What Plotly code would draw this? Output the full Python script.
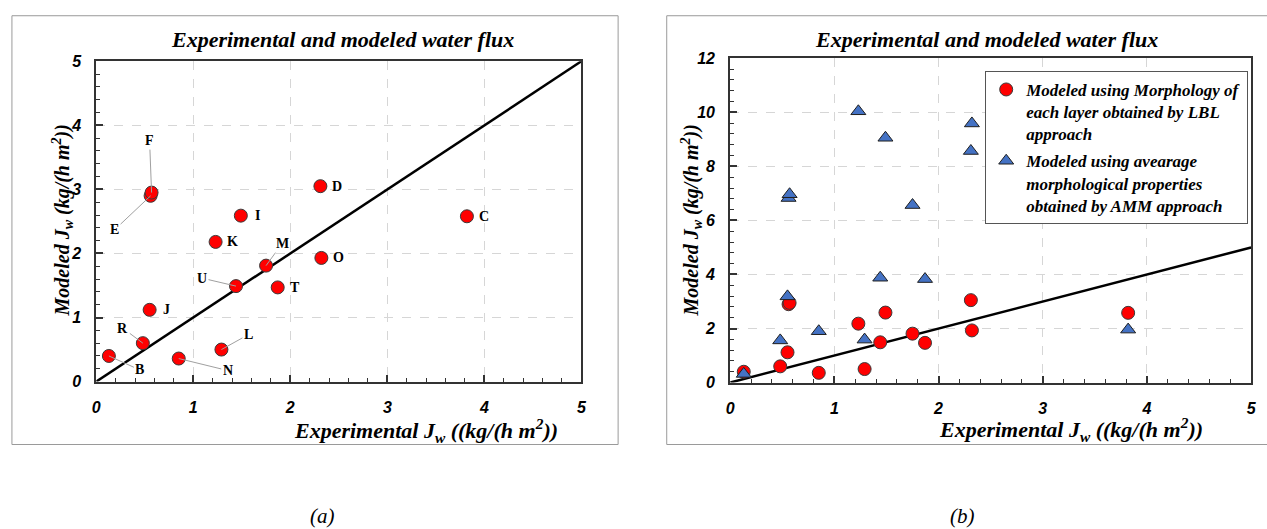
import plotly.graph_objects as go

# ---------------- data ----------------
labels = ["B", "R", "J", "E", "F", "N", "L", "U", "K", "I", "M", "T", "D", "O", "C"]
exp_jw = [0.13, 0.48, 0.55, 0.56, 0.57, 0.85, 1.29, 1.44, 1.23, 1.49, 1.75, 1.87, 2.31, 2.32, 3.82]
lbl_jw = [0.40, 0.60, 1.12, 2.90, 2.95, 0.36, 0.50, 1.49, 2.18, 2.59, 1.81, 1.47, 3.05, 1.93, 2.58]
amm_jw = [0.32, 1.56, 3.19, 6.83, 6.97, 1.90, 1.59, 3.88, 10.04, 9.06, 6.57, 3.83, 8.57, 9.59, 1.96]
line_x = [0, 5]
line_y = [0, 5]

title_text = "Experimental and modeled water flux"
xtitle = "Experimental J<sub>w</sub> ((kg/(h m<sup>2</sup>))"
ytitle = "Modeled J<sub>w</sub> (kg/(h m<sup>2</sup>))"
legend_lbl = "Modeled using Morphology of<br>each layer obtained by LBL<br>approach"
legend_amm = "Modeled using avearage<br>morphological properties<br>obtained by AMM approach"

# label leader offsets (pixels); labels not listed sit to the right of their point
leader = {"F": (-2, -52), "E": (-36, 34), "R": (-20, -15), "B": (31, 14),
          "N": (49, 12), "L": (27, -15), "U": (-34, -8), "M": (16, -22)}

W, H = 1267, 529
def fx(p): return p / W
def fy(p): return 1 - p / H

SERIF = "Liberation Serif, Times New Roman, serif"
title_font = dict(family=SERIF, size=22, color="black", weight="bold", style="italic")
xtitle_font = dict(family=SERIF, size=22, color="black", weight="bold", style="italic")
ytitle_font = dict(family=SERIF, size=20, color="black", weight="bold", style="italic")
tick_font = dict(family="Liberation Sans, Arial, sans-serif", size=16, color="black",
                 weight="bold", style="italic")

fig = go.Figure()

# left panel
fig.add_trace(go.Scatter(x=line_x, y=line_y, mode="lines", line=dict(color="black", width=2.5),
                         xaxis="x", yaxis="y", showlegend=False, hoverinfo="skip"))
fig.add_trace(go.Scatter(x=exp_jw, y=lbl_jw, mode="markers", text=labels,
                         marker=dict(symbol="circle", size=13, color="#ff0000",
                                     line=dict(color="#3a3a3a", width=1)),
                         xaxis="x", yaxis="y", showlegend=False))
# right panel
fig.add_trace(go.Scatter(x=line_x, y=line_y, mode="lines", line=dict(color="black", width=2.5),
                         xaxis="x2", yaxis="y2", showlegend=False, hoverinfo="skip"))
fig.add_trace(go.Scatter(x=exp_jw, y=lbl_jw, mode="markers", name=legend_lbl, legendgroup="a",
                         marker=dict(symbol="circle", size=13, color="#ff0000",
                                     line=dict(color="#3a3a3a", width=1)),
                         xaxis="x2", yaxis="y2"))
fig.add_trace(go.Scatter(x=exp_jw, y=amm_jw, mode="markers", name=legend_amm, legendgroup="b",
                         marker=dict(symbol="triangle-up", size=13, color="#4472c4",
                                     line=dict(color="#1f1f1f", width=1)),
                         xaxis="x2", yaxis="y2"))

def axis_common(dtick, minor_dtick, rng, standoff):
    return dict(range=rng, dtick=dtick, ticks="inside", ticklen=7, tickwidth=1.5, tickcolor="#333",
                minor=dict(dtick=minor_dtick, ticks="inside", ticklen=4, tickwidth=1, tickcolor="#333",
                           showgrid=False),
                showline=True, linecolor="#333", linewidth=2, mirror=True,
                showgrid=True, gridcolor="#d6d6d6", griddash="dash", gridwidth=1,
                zeroline=False, tickfont=tick_font, ticklabelstandoff=standoff)

annotations = []
shapes = []

# panel frames
shapes.append(dict(type="rect", xref="paper", yref="paper", x0=fx(8), x1=fx(619), y0=fy(451), y1=fy(8),
                   line=dict(color="#9a9a9a", width=1)))
shapes.append(dict(type="rect", xref="paper", yref="paper", x0=fx(668), x1=fx(1290), y0=fy(451), y1=fy(8),
                   line=dict(color="#9a9a9a", width=1)))

# titles
for cx in (341, 990):
    annotations.append(dict(text=title_text, x=fx(cx), y=fy(33), xref="paper", yref="paper",
                            showarrow=False, font=title_font, xanchor="center", yanchor="middle"))
# axis titles
for cx, cy in ((425, 437), (1075, 436)):
    annotations.append(dict(text=xtitle, x=fx(cx), y=fy(cy), xref="paper", yref="paper",
                            showarrow=False, font=xtitle_font, xanchor="center", yanchor="middle"))
for cx, cy in ((59, 220), (693, 220)):
    annotations.append(dict(text=ytitle, x=fx(cx), y=fy(cy), xref="paper", yref="paper", textangle=-90,
                            showarrow=False, font=ytitle_font, xanchor="center", yanchor="middle"))
# captions
for cx, t in ((321, "(a)"), (966, "(b)")):
    annotations.append(dict(text=t, x=fx(cx), y=fy(525), xref="paper", yref="paper", showarrow=False,
                            font=dict(family=SERIF, size=21, color="black", style="italic"),
                            xanchor="center", yanchor="middle"))

# point labels (left)
lab_font = dict(family=SERIF, size=14, color="black", weight="bold")
for lab, xv, yv in zip(labels, exp_jw, lbl_jw):
    if lab in leader:
        ax, ay = leader[lab]
        annotations.append(dict(text=lab, x=xv, y=yv, xref="x", yref="y", showarrow=True,
                                arrowhead=0, arrowwidth=1, arrowcolor="#a0a0a0", ax=ax, ay=ay,
                                standoff=0, font=lab_font))
    else:
        annotations.append(dict(text=lab, x=xv, y=yv, xref="x", yref="y", showarrow=False,
                                xshift=17, font=lab_font))

fig.update_layout(
    width=W, height=H, margin=dict(l=0, r=0, t=0, b=0),
    paper_bgcolor="white", plot_bgcolor="white",
    xaxis=dict(domain=[fx(93), fx(582)], anchor="y", **axis_common(1, 0.2, [0, 5], 10)),
    yaxis=dict(domain=[fy(386), fy(55)], anchor="x", **axis_common(1, 0.2, [0, 5], 10)),
    xaxis2=dict(domain=[fx(732), fx(1257)], anchor="y2", **axis_common(1, 0.2, [0, 5], 10)),
    yaxis2=dict(domain=[fy(387), fy(52)], anchor="x2", **axis_common(2, 0.4, [0, 12], 10)),
    legend=dict(x=fx(989), y=fy(65), xanchor="left", yanchor="top", bgcolor="white",
                bordercolor="#555", borderwidth=1, valign="top", tracegroupgap=2,
                font=dict(family=SERIF, size=17, color="black", weight="bold", style="italic")),
    annotations=annotations, shapes=shapes,
)

fig.write_html("out.html")
